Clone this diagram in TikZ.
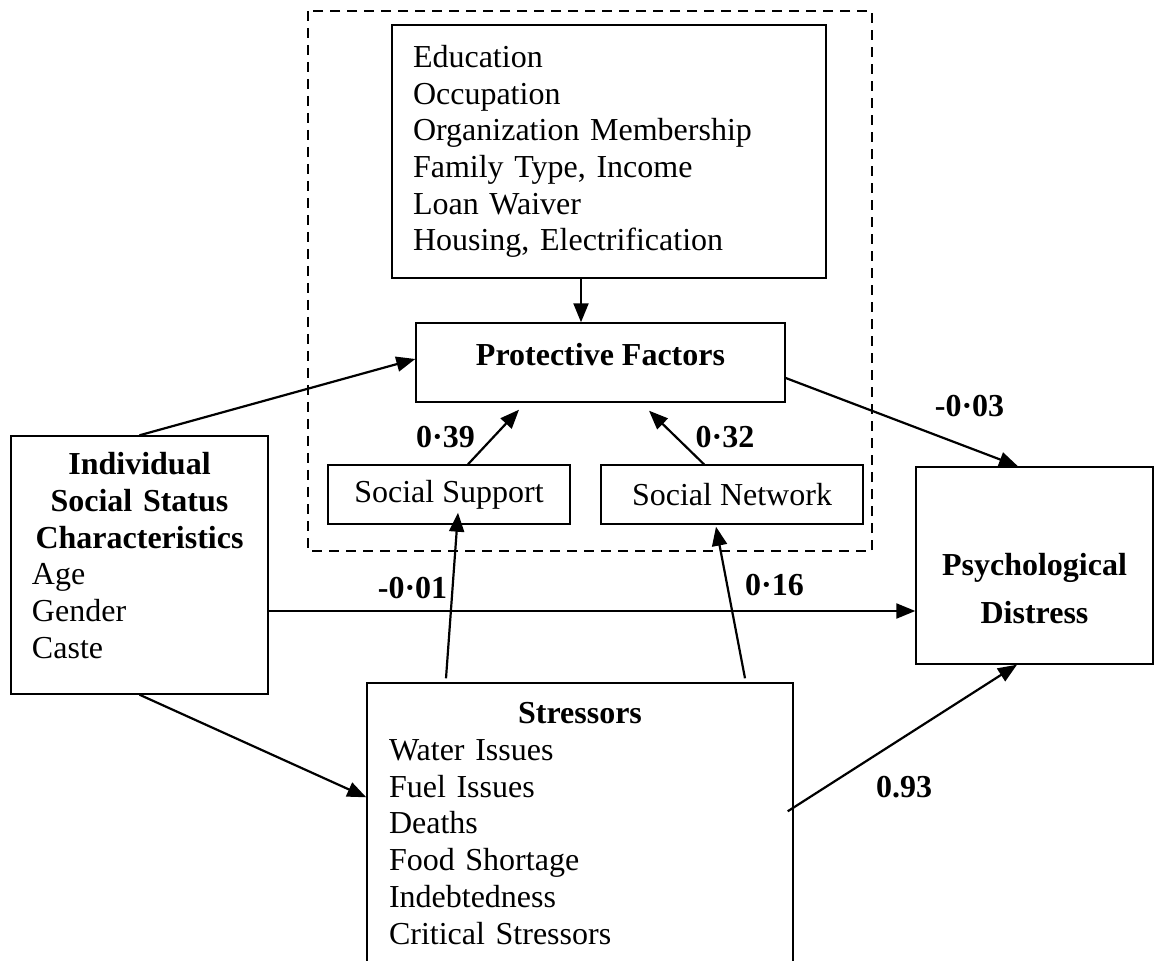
\documentclass[tikz,border=0pt]{standalone}
\usepackage{fontspec}
\setmainfont{Liberation Serif}
\usetikzlibrary{arrows.meta,positioning}
\newcommand\diagfont{\fontsize{16pt}{18.35pt}\selectfont}
\newcommand\lowpad[1]{\rule[-#1]{0pt}{#1}}
\tikzset{
  box/.style={draw,line width=0.7pt,inner sep=0pt,font=\diagfont},
  boldbox/.style={box,font=\diagfont\bfseries},
  listbox/.style={box,align=left,inner xsep=10.5pt},
  lab/.style={font=\diagfont\bfseries,anchor=base,inner sep=0pt},
  arr/.style={line width=1.1pt,-{Triangle[length=9.5pt,width=7.5pt]}}
}

\begin{document}
\begin{tikzpicture}[x=0.5pt,y=-0.5pt]
                   \useasboundingbox (0,0) rectangle (1154,961);
                   % protective side
                   \draw[line width=0.6pt,dash pattern=on 5pt off 3.5pt] (308,11) rectangle (872,551);
                   \node[listbox,text width=196pt,minimum width=217pt,minimum height=126.5pt] (edu) at (609,151.5)
                        {Education\\Occupation\\Organization Membership\\Family Type, Income\\Loan Waiver\\Housing, Electrification};
                   \node[boldbox,minimum width=184.5pt,minimum height=39.5pt] (pf) at (600.5,362.5) {Protective Factors\lowpad{8.5pt}};
                   \node[box,minimum width=121pt,minimum height=29.5pt] (ss) at (449,494.5) {Social Support};
                   \node[box,minimum width=131pt,minimum height=29.5pt] (sn) at (732,494.5) {Social Network};
                   % the other boxes
                   \node[listbox,text width=107.5pt,minimum width=128.5pt,minimum height=129pt] (isc) at (139.5,565)
                        {{\centering\bfseries Individual\\Social Status\\Characteristics\par}Age\\Gender\\Caste\lowpad{9.5pt}};
                   \node[boldbox,align=center,text width=110pt,minimum width=118.5pt,minimum height=98.5pt] (pd) at (1034.5,565.5)
                        {\rule{0pt}{34.5pt}Psychological\\[5.6pt]Distress};
                   \node[listbox,inner xsep=11pt,text width=191pt,minimum width=213pt,minimum height=140.5pt] (st) at (580,823.5)
                        {{\centering\bfseries Stressors\par}Water Issues\\Fuel Issues\\Deaths\\Food Shortage\\Indebtedness\\Critical Stressors};
                    \path[arr]
                    (isc.north) edge ([yshift=1.75pt]pf.west)
                    ([xshift=-14pt]edu.south) edge ([xshift=-14pt]edu.south |- pf.north)
                    ([xshift=9.5pt]ss.north) edge ([xshift=-40.75pt,yshift=-3.5pt]pf.south)
                    ([xshift=-14pt]sn.north) edge ([xshift=24.25pt,yshift=-4pt]pf.south)
                    ([yshift=-7.75pt]pf.east) edge ([xshift=-8.25pt]pd.north)
                    ([yshift=-23pt]isc.east) edge ([yshift=-23pt]isc.east -| pd.west)
                    (isc.south) edge ([yshift=-57.5pt]st.north west)
                    ([xshift=-67pt,yshift=2pt]st.north) edge ([xshift=4.5pt,yshift=6pt]ss.south)
                    ([xshift=82.5pt,yshift=2pt]st.north) edge ([xshift=-8pt,yshift=-1pt]sn.south)
                    ([xshift=-3pt,yshift=-64.5pt]st.north east) edge ([xshift=-8.75pt]pd.south);
                   % path weights
                   \node[lab] (w39) at (445.5,448) {0·39};
                   \node[lab] (w32) at (725,448) {0·32};
                   \node[lab] (w03) at (969.5,417) {-0·03};
                   \node[lab] (w01) at (412.5,598) {-0·01};
                   \node[lab] (w16) at (774.5,595) {0·16};
                   \node[lab] (w93) at (904,797) {0.93};
                \end{tikzpicture}
\end{document}
